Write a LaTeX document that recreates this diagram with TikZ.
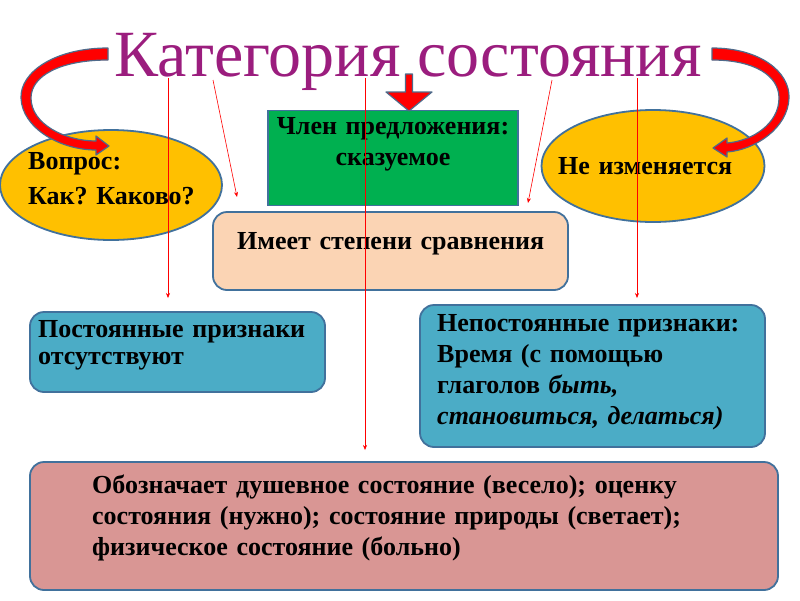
\documentclass[tikz,border=0pt]{standalone}
\usepackage{fontspec}
\setmainfont{Liberation Serif}
\usetikzlibrary{arrows.meta,shapes.geometric}
\definecolor{ttl}{HTML}{9B1D7E}
\definecolor{grn}{HTML}{00B050}
\definecolor{ylw}{HTML}{FFC000}
\definecolor{pch}{HTML}{FBD4B4}
\definecolor{blu}{HTML}{4BACC6}
\definecolor{pnk}{HTML}{D99694}
\definecolor{bord}{HTML}{41719C}
\definecolor{arrbord}{HTML}{4F6A8A}
\definecolor{darkred}{HTML}{C00000}
\frenchspacing
\begin{document}
\begin{tikzpicture}[x=1pt,y=-1pt,
  box/.style={draw=bord, line width=1.8pt, rounded corners=14pt, inner sep=0pt},
  ell/.style={draw=bord, line width=1.8pt, ellipse, fill=ylw, inner sep=0pt},
  txt/.style={font=\bfseries\fontsize{26}{31}\selectfont, inner sep=0pt, align=left, text width=400pt, anchor=base west},
  thinarr/.style={draw=red, line width=0.6pt, -{Stealth[length=5pt,width=4pt]}},
  bigarr/.style={fill=red, draw=arrbord, line width=1.2pt, line join=round}]
\useasboundingbox (0,0) rectangle (800,600);
\fill[white] (0,0) rectangle (800,600);

% title
\node[font=\fontsize{66}{70}\selectfont, text=ttl, inner sep=0pt, anchor=base] (title) at (408,76) {Категория состояния};

% ellipses
\node[ell, minimum width=222pt, minimum height=110pt] (question) at (111,185) {};
\node[ell, minimum width=223pt, minimum height=112pt] (nochange) at (653,166) {};

% boxes
\node[box, rounded corners=0pt, fill=grn, minimum width=250pt, minimum height=95pt] (member) at (393,158) {};
\node[box, fill=pch, minimum width=355pt, minimum height=78pt] (degree) at (390.5,251) {};
\node[box, fill=blu, minimum width=295pt, minimum height=80pt] (const) at (177.5,352) {};
\node[box, fill=blu, minimum width=345pt, minimum height=142pt] (nonconst) at (592.5,376) {};
\node[box, fill=pnk, minimum width=748pt, minimum height=128pt] (meaning) at (404,526) {};

% texts
\node[txt, align=center, text width=260pt, anchor=base] (tmember) at (393,134) {Член предложения:\\сказуемое};
\node[txt] (tquestion) at (28,169) {Вопрос:\\[4pt]Как? Каково?};
\node[txt] (tnochange) at (558,174) {Не изменяется};
\node[txt] (tdegree) at (237,249) {Имеет степени сравнения};
\node[txt, font=\bfseries\fontsize{26}{27}\selectfont] (tconst) at (38,337) {Постоянные признаки\\отсутствуют};
\node[txt] (tnonconst) at (437,331) {Непостоянные признаки:\\Время (с помощью\\глаголов \textit{быть,}\\\textit{становиться, делаться)}};
\node[txt, text width=700pt] (tmeaning) at (92,493) {Обозначает душевное состояние (весело); оценку\\состояния (нужно); состояние природы (светает);\\физическое состояние (больно)};

% thin red arrows
\coordinate (s1) at (168,78);
\coordinate (s2) at (213,80);
\coordinate (s3) at (365,78);
\coordinate (s4) at (552,80);
\coordinate (s5) at (637,78);
\coordinate (e1) at (168,298);
\coordinate (e2) at (237,197);
\coordinate (e3) at (365,450);
\coordinate (e4) at (528,203);
\coordinate (e5) at (637,298);
\draw[thinarr] (s1) -- (e1);
\draw[thinarr] (s2) -- (e2);
\draw[thinarr] (s3) -- (e3);
\draw[thinarr] (s4) -- (e4);
\draw[thinarr] (s5) -- (e5);

% down block arrow
\draw[bigarr] (405.5,74) -- (412.5,74) -- (412.5,92) -- (432,92) -- (409,111) -- (386,92) -- (405.5,92) -- cycle;

% curved arrows
\draw[bigarr] (108,48) .. controls (55,48) and (20,72) .. (21,98) .. controls (22,128) and (60,150) .. (96,150) -- (96,155) -- (109,146) -- (96,136) -- (96,141) .. controls (65,141) and (31,124) .. (31,98) .. controls (31,76) and (60,60) .. (108,60) -- cycle;
\draw[bigarr] (712,48) .. controls (760,48) and (790,72) .. (789,98) .. controls (788,128) and (755,150) .. (727,152) -- (727,157) -- (713,148) -- (727,138) -- (727,143) .. controls (752,141) and (779,124) .. (779,98) .. controls (779,76) and (755,60) .. (712,60) -- cycle;
\end{tikzpicture}
\end{document}
